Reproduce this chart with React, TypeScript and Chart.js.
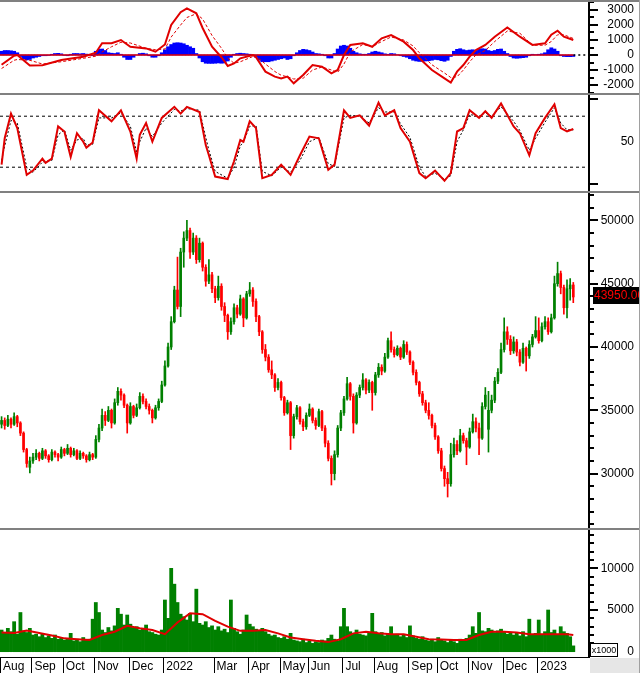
import React, { useEffect, useRef } from 'react';
import { Chart, registerables } from 'chart.js';

Chart.register(...registerables);

// ---------------- DATA ----------------
const monthLabels = ['Aug', 'Sep', 'Oct', 'Nov', 'Dec', '2022', 'Mar', 'Apr', 'May', 'Jun', 'Jul', 'Aug', 'Sep', 'Oct', 'Nov', 'Dec', '2023'];
const monthStartIdx = [0, 10, 20, 30, 41, 52, 68, 79, 89, 98, 109, 119, 130, 139, 149, 160, 171];

const opens = [
  33900, 34200, 33800, 34300, 33900, 34500, 34000, 33200, 31900, 30500,
  31000, 31300, 31600, 31200, 31800, 31400, 31100, 31700, 31500, 31300,
  31900, 31600, 32000, 31500, 31800, 31200, 31600, 31400, 31100, 31500,
  31300, 32700, 33600, 34600, 34200, 35000, 34000, 35600, 36500, 36200,
  35400, 34000, 35300, 34600, 35200, 36100, 35700, 35300, 35000, 34400,
  35200, 35700, 37000, 38500, 40000, 42000, 44500, 43200, 47500, 48600,
  49200, 47500, 48600, 46900, 48200, 46300, 45200, 45700, 44600, 43900,
  44800, 43200, 42500, 41200, 42000, 43100, 42600, 43800, 42300, 44200,
  44500, 43600, 42400, 41200, 39800, 39200, 38200, 37800, 36800, 37200,
  36000, 34800, 35600, 33000, 34500, 35200, 34100, 33700, 34600, 35100,
  34200, 33800, 34900, 33600, 32400, 31200, 30000, 31500, 33600, 34800,
  35900, 37100, 36100, 34000, 36200, 36800, 37400, 36600, 37200, 36400,
  37800, 38400, 38100, 39200, 40500, 39800, 39400, 39900, 39200, 40200,
  39600, 38800, 38000, 37200, 36300, 35600, 35000, 34600, 33800, 32900,
  31800, 30400, 29600, 29200, 31500, 32300, 31800, 33000, 32600, 32100,
  33300, 34100, 33600, 32800, 35300, 33500, 35000, 35800, 37300, 38000,
  39800, 41200, 40600, 39700, 40400, 39600, 38800, 39900, 39300, 40200,
  40800, 41300, 40500, 41600, 42000, 41200, 42300, 45000, 45800, 44700,
  43100, 44600, 44900,
];
const highs = [
  34500, 34400, 34600, 34400, 34800, 34600, 34100, 33300, 32000, 31300,
  31600, 31900, 31700, 32000, 31900, 31500, 31900, 31800, 31600, 32100,
  32000, 32300, 32100, 32000, 31900, 31800, 31700, 31500, 31700, 31600,
  33000, 33900, 35100, 34900, 35300, 35100, 35900, 36800, 36700, 36300,
  35500, 35600, 35400, 35500, 36400, 36300, 35900, 35500, 35100, 35400,
  35900, 37300, 38900, 40300, 42400, 44800, 47100, 47800, 49100, 50000,
  49400, 49000, 48800, 48600, 48300, 46500, 46900, 45900, 44800, 45600,
  45000, 43500, 42600, 42300, 43400, 43300, 44100, 43900, 44400, 45100,
  44700, 43800, 42500, 41300, 40200, 39400, 38900, 37900, 37500, 37300,
  36100, 35800, 35700, 34700, 35400, 35300, 34300, 34800, 35500, 35200,
  34400, 35100, 35000, 33800, 32600, 31400, 31800, 33800, 35000, 36100,
  37600, 37200, 36300, 36400, 37000, 37900, 37500, 37400, 37300, 38000,
  38700, 38600, 39500, 40700, 41200, 40000, 40100, 40000, 40500, 40400,
  39700, 38900, 38200, 37300, 36500, 35800, 35600, 34700, 34000, 33000,
  32000, 30600, 30100, 32400, 32800, 32600, 33500, 33200, 32800, 33600,
  34700, 34400, 34000, 35600, 36800, 36500, 36200, 37600, 38300, 40300,
  42300, 41600, 40900, 40800, 40600, 39800, 40300, 40000, 40500, 41000,
  42400, 42300, 41900, 42400, 42300, 42600, 45600, 46700, 46000, 44900,
  45300, 45400, 45100,
];
const lows = [
  33600, 33500, 33700, 33600, 33800, 33700, 33000, 31700, 30500, 30050,
  30800, 31100, 31000, 31100, 31200, 30900, 31000, 31300, 31000, 31200,
  31400, 31500, 31300, 31400, 31100, 31100, 31200, 30900, 31000, 31100,
  31200, 32500, 33400, 33800, 34100, 33600, 33900, 35400, 35800, 35200,
  33200, 33900, 34400, 34500, 35100, 35500, 35100, 34700, 34000, 34300,
  35000, 35600, 36900, 38400, 39800, 41900, 43000, 42400, 46300, 48400,
  47000, 47300, 46600, 46700, 46000, 44800, 45000, 44300, 43500, 43700,
  42900, 42000, 40600, 41000, 41800, 42300, 42500, 41600, 42200, 44000,
  43200, 42000, 40900, 39500, 38900, 38000, 37500, 36500, 36600, 35800,
  34600, 34700, 31900, 32800, 34300, 33900, 33400, 33500, 34500, 34000,
  33500, 33700, 33400, 32100, 31000, 29100, 29500, 31300, 33400, 34600,
  35800, 35800, 33200, 33900, 36000, 36600, 36300, 36400, 35000, 36200,
  37600, 37800, 38000, 39100, 39600, 39200, 39300, 39000, 39100, 39400,
  38600, 37800, 37000, 36100, 35400, 34800, 34300, 33600, 32700, 31600,
  30200, 29000, 28150, 29000, 31300, 31500, 31700, 32400, 30700, 32000,
  33200, 33300, 31500, 32700, 35100, 31700, 34800, 35600, 37100, 37900,
  39600, 40200, 39400, 39500, 39300, 38500, 38700, 38100, 39100, 40000,
  40700, 40300, 40400, 41400, 41000, 41100, 42200, 44800, 44200, 42600,
  42300, 43700, 43500,
];
const closes = [
  34200, 33800, 34300, 33900, 34500, 34000, 33200, 31900, 30800, 31000,
  31300, 31600, 31200, 31800, 31400, 31100, 31700, 31500, 31300, 31900,
  31600, 32000, 31500, 31800, 31200, 31600, 31400, 31100, 31500, 31300,
  32700, 33600, 34600, 34200, 35000, 34000, 35600, 36500, 36200, 35400,
  34000, 35300, 34600, 35200, 36100, 35700, 35300, 35000, 34400, 35200,
  35700, 37000, 38500, 40000, 42000, 44500, 43200, 47500, 48600, 49200,
  47500, 48600, 46900, 48200, 46300, 45200, 45700, 44600, 43900, 44800,
  43200, 42500, 41200, 42000, 43100, 42600, 43800, 42300, 44200, 44500,
  43600, 42400, 41200, 39800, 39200, 38200, 37800, 36800, 37200, 36000,
  34800, 35600, 33000, 34500, 35200, 34100, 33700, 34600, 35100, 34200,
  33800, 34900, 33600, 32400, 31200, 30000, 31500, 33600, 34800, 35900,
  37100, 36100, 34000, 36200, 36800, 37400, 36600, 37200, 36400, 37800,
  38400, 38100, 39200, 40500, 39800, 39400, 39900, 39200, 40200, 39600,
  38800, 38000, 37200, 36300, 35600, 35000, 34600, 33800, 32900, 31800,
  30400, 29600, 29200, 31500, 32300, 31800, 33000, 32600, 32100, 33300,
  34100, 33600, 32800, 35300, 36200, 35000, 35800, 37300, 38000, 39800,
  41200, 40600, 39700, 40400, 39600, 38800, 39900, 39300, 40200, 40800,
  41300, 40500, 41600, 42000, 41200, 42300, 45000, 45800, 44700, 43100,
  44600, 44900, 43950,
];

// volume, x1000
const volumes = [
  2600, 2200, 2800, 2400, 3600, 2100, 4700, 2500, 2300, 2800, 2000,
  2100, 1800, 2200, 1700, 1900, 1600, 2000, 1500, 1700, 1400,
  1600, 2200, 1300, 1500, 1200, 1700, 1400, 1500, 3900, 5900, 4700,
  2600, 2300, 2900, 2500, 3100, 5200, 4500, 3200, 4400,
  3300, 2900, 3000, 2600, 2800, 3200, 2400, 2300, 2100, 2000, 2600,
  6200, 4000, 10000, 8100, 5900, 4500, 4200, 3800, 4600, 3600, 7500,
  3400, 3200, 3600, 2900, 3100, 2600, 3000, 2500, 2700, 2300, 6200,
  2800, 2400, 2100, 2600, 4400, 3300, 3000, 2700, 2500, 2800,
  2400, 2100, 1900, 2000, 1700, 1600, 1800, 1500, 2200, 1400,
  1300, 1200, 1500, 1100, 1300, 1000, 1200, 1100, 1400, 1300, 1600, 2000, 1500, 1300, 3000,
  5200, 3000, 2400, 2200, 2600, 2100, 2000, 1900, 2200, 4600,
  2400, 2100, 2300, 1900, 2200, 3000, 2000, 2100, 1800, 2000, 1700, 3100,
  1900, 1600, 1500, 1800, 1400, 1300, 1500, 1200, 1700, 1400, 1300,
  1100, 1400, 1200, 1000, 1500, 1300, 1600, 2000, 3000, 2200, 4700,
  2500, 2400, 2800, 2600, 2300, 2500, 2700, 2400, 2100, 2300, 2000,
  2200, 1900, 2400, 1800, 3900, 2000, 2200, 3800, 2100, 2400, 5000,
  2300, 2600, 2100, 3000, 2400, 2200, 1800, 700,
];
const volMaIdx = [0, 4, 8, 12, 16, 20, 24, 28, 32, 36, 40, 44, 48, 52, 56, 60, 64, 68, 72, 76, 80, 84, 88, 92, 96, 100, 104, 108, 112, 116, 120, 124, 128, 132, 136, 140, 144, 148, 152, 156, 160, 164, 168, 172, 176, 180, 182];
const volMa = [
  2300, 2250, 2550, 2250, 1950, 1600, 1500, 1400, 2000, 2400,
  3100, 2800, 2600, 2100, 3500, 4600, 4500, 3700, 3000, 2500,
  2500, 2600, 2200, 1700, 1500, 1300, 1150, 1500, 2200, 2400,
  2200, 2100, 2100, 1800, 1500, 1450, 1400, 1400, 2000, 2400,
  2400, 2300, 2100, 2100, 2100, 2100, 2000,
];

// MACD
const macdIdx = [0, 4, 5, 9, 13, 19, 26, 30, 32, 35, 38, 41, 46, 49, 52, 54, 57, 59, 62, 64, 67, 70, 72, 74, 76, 80, 81, 84, 87, 89, 91, 93, 96, 99, 102, 105, 107, 109, 111, 115, 118, 121, 124, 128, 131, 133, 137, 141, 143, 145, 147, 149, 151, 154, 157, 161, 165, 169, 173, 175, 177, 179, 182];
const macdLine = [
  -650, -50, 0, -700, -680, -330, -110, 150, 780, 780,
  1000, 550, 440, 220, 700, 2000, 2850, 3110, 2780, 1800,
  550, -150, -730, -560, -220, 0, -150, -1110, -1440, -1560,
  -1440, -1890, -1330, -670, -780, -1220, -1000, 0, 670, 780,
  550, 1110, 1330, 890, 330, -220, -1000, -1560, -1840, -1110,
  -670, -110, 330, 670, 1220, 1840, 1220, 670, 780, 1350,
  1620, 1220, 1000,
];
const macdSignal = [
  -900, -350, -300, -350, -600, -450, -220, -80, 200, 550,
  850, 800, 450, 350, 400, 1200, 2000, 2500, 2750, 2400,
  1300, 450, -200, -550, -450, -100, -80, -600, -1100, -1350,
  -1450, -1600, -1550, -1000, -800, -1000, -1150, -600, 200, 700,
  550, 900, 1200, 1000, 600, 150, -650, -1200, -1500, -1450,
  -1000, -450, 0, 300, 900, 1600, 1450, 650, 650, 900,
  1350, 1350, 1100,
];
const macdHist = [
  250, 300, 300, 280, 250, 150, -100, -250, -330, -300,
  -200, -150, -100, -50, -50, -30, 50, 100, 110, 80,
  -30, -50, 50, 100, 100, 80, 100, 60, 20, -50,
  250, 380, 400, 300, 150, 120, 100, 150, 50, -150,
  -300, -300, -150, 0, 100, 120, 80, -50, -150, -150,
  -50, 150, 350, 550, 700, 800, 820, 800, 750, 650,
  550, 450, 100, -200, -450, -550, -560, -560, -550, -530,
  -550, -530, -400, -150, 50, 100, 120, 100, 80, 50,
  -50, -150, -350, -450, -450, -450, -400, -350, -300, -250,
  -200, -300, -250, -50, 150, 300, 380, 350, 300, 200,
  100, 80, 50, -50, -200, -200, 100, 400, 600, 650,
  600, 450, 250, 150, 80, 50, 50, 100, 200, 250,
  200, 150, 80, 50, 100, 80, 20, -50, -100, -150,
  -250, -350, -400, -430, -420, -400, -380, -350, -300, -320,
  -380, -420, -350, -100, 250, 380, 420, 350, 300, 330,
  350, 300, 380, 420, 400, 300, 250, 300, 380, 400,
  250, 100, -100, -200, -220, -200, -180, -150, -50, 50,
  30, 50, 80, 150, 350, 480, 400, 250, -50, -100,
  -110, -110, -100,
];

// Stochastic
const stochIdx = [0, 1, 3, 5, 8, 10, 13, 14, 16, 18, 20, 22, 24, 26, 27, 29, 31, 35, 38, 41, 43, 44, 46, 48, 51, 55, 57, 59, 63, 65, 66, 68, 72, 74, 76, 77, 79, 81, 83, 86, 89, 92, 95, 98, 101, 104, 106, 109, 111, 114, 117, 120, 122, 125, 127, 130, 133, 135, 138, 141, 143, 145, 147, 149, 152, 154, 156, 159, 163, 165, 168, 170, 173, 176, 178, 180, 182];
const stochK = [
  23, 54, 83, 66, 11, 16, 30, 25, 30, 68,
  62, 32, 60, 50, 43, 49, 87, 74, 87, 62,
  30, 58, 72, 50, 78, 91, 83, 91, 85, 46,
  34, 9, 6, 27, 52, 50, 74, 66, 7, 11,
  23, 11, 34, 56, 54, 17, 23, 87, 78, 81,
  69, 96, 81, 87, 66, 50, 13, 7, 16, 4,
  13, 62, 66, 87, 78, 86, 78, 95, 68, 60,
  34, 60, 78, 94, 66, 62, 65,
];
const stochD = [
  28, 45, 75, 72, 20, 14, 26, 27, 28, 58,
  64, 40, 52, 54, 46, 47, 78, 78, 84, 68,
  38, 50, 66, 56, 72, 88, 86, 89, 87, 55,
  40, 15, 7, 20, 45, 50, 68, 69, 15, 10,
  20, 14, 28, 50, 55, 24, 21, 78, 81, 80,
  72, 90, 85, 85, 71, 55, 20, 9, 13, 6,
  10, 50, 64, 82, 80, 84, 80, 91, 74, 63,
  40, 54, 73, 90, 72, 64, 64,
];
const stochLevels = [20, 80];

const macdLabels = [-2000, -1000, 0, 1000, 2000, 3000];
const stochLabels = [50];
const priceLabels = [30000, 35000, 40000, 45000, 50000];
const volLabels = [0, 5000, 10000];

// ---------------- STYLE / LAYOUT ----------------
const FONT = '"Liberation Sans", Arial, Helvetica, sans-serif';
const GREEN = '#008000';
const RED = '#ff0000';
const LINE_RED = '#e00000';
const BLUE = '#0000ff';
const AXIS_W = 45;
const PAD_R = 6;
const X_MIN = -0.5;
const X_MAX = 187;

const range = (a: number, b: number, s: number) => {
  const out: number[] = [];
  for (let v = a; v <= b + 1e-9; v += s) out.push(v);
  return out;
};

const tickMarksPlugin = (major: number[], minor: number[]) => ({
  id: 'tickMarks',
  afterDraw(chart: any) {
    const ys = chart.scales.y;
    const ctx = chart.ctx;
    const area = chart.chartArea;
    ctx.save();
    ctx.strokeStyle = '#000';
    ctx.lineWidth = 2;
    const mark = (v: number, len: number) => {
      const py = Math.round(ys.getPixelForValue(v));
      if (py < area.top || py > area.bottom) return;
      ctx.beginPath();
      ctx.moveTo(area.right, py);
      ctx.lineTo(area.right + len, py);
      ctx.stroke();
    };
    minor.forEach((v) => mark(v, 5));
    major.forEach((v) => mark(v, 9));
    ctx.restore();
  },
});

const priceTagPlugin = {
  id: 'priceTag',
  afterDraw(chart: any) {
    const ys = chart.scales.y;
    const ctx = chart.ctx;
    const last = closes[closes.length - 1];
    const py = Math.round(ys.getPixelForValue(last)) - 2;
    const x = chart.chartArea.right + 4;
    ctx.save();
    ctx.fillStyle = '#000';
    ctx.fillRect(x, py - 8, chart.width - x, 17);
    ctx.fillStyle = '#ff0000';
    ctx.font = `12px ${FONT}`;
    ctx.textBaseline = 'middle';
    ctx.textAlign = 'left';
    ctx.fillText(last.toFixed(2), x + 1, py + 1);
    ctx.restore();
  },
};

const volDecorPlugin = {
  id: 'volDecor',
  afterDraw(chart: any) {
    const ctx = chart.ctx;
    const area = chart.chartArea;
    const xs = chart.scales.x;
    ctx.save();
    ctx.fillStyle = '#e6e6e6';
    ctx.fillRect(area.right + 1, area.bottom + 1, chart.width - area.right - 1, chart.height - area.bottom - 1);
    ctx.strokeStyle = '#000';
    ctx.lineWidth = 1;
    monthStartIdx.forEach((i) => {
      const px = Math.round(xs.getPixelForValue(i - 0.5)) + 0.5;
      ctx.beginPath();
      ctx.moveTo(px, area.bottom);
      ctx.lineTo(px, chart.height);
      ctx.stroke();
    });
    const bx = area.right + 1.5;
    const by = area.bottom - 13.5;
    ctx.fillStyle = '#fff';
    ctx.fillRect(bx, by, 27, 13);
    ctx.strokeRect(bx, by, 27, 13);
    ctx.fillStyle = '#000';
    ctx.font = `9px ${FONT}`;
    ctx.textAlign = 'center';
    ctx.textBaseline = 'middle';
    ctx.fillText('x1000', bx + 13.5, by + 7);
    ctx.restore();
  },
};

function yScale(min: number, max: number, labels: number[]) {
  return {
    type: 'linear',
    position: 'right',
    min,
    max,
    beginAtZero: false,
    afterBuildTicks: (s: any) => {
      s.ticks = labels.map((v) => ({ value: v }));
    },
    afterFit: (s: any) => {
      s.width = AXIS_W;
      s.paddingTop = 0;
      s.paddingBottom = 0;
      s.paddingLeft = 0;
      s.paddingRight = 0;
    },
    grid: { display: false, drawTicks: false },
    border: { display: true, color: '#000', width: 2 },
    ticks: {
      autoSkip: false,
      crossAlign: 'far',
      color: '#000',
      padding: 0,
      font: { family: FONT, size: 12 },
      callback: (v: number) => String(v),
    },
  };
}

const hiddenX = { type: 'linear', min: X_MIN, max: X_MAX, display: false, offset: false };

function baseOptions(scales: any) {
  return {
    responsive: false,
    maintainAspectRatio: false,
    animation: false,
    events: [],
    layout: { padding: { left: 0, right: PAD_R, top: 0, bottom: 0 }, autoPadding: false },
    plugins: { legend: { display: false }, tooltip: { enabled: false } },
    scales,
  };
}

const lineDs = (data: any[], color: string, width: number, dash: number[] = [], order = 0) => ({
  type: 'line',
  data,
  borderColor: color,
  borderWidth: width,
  borderDash: dash,
  pointRadius: 0,
  tension: 0,
  fill: false,
  order,
});

export default function App() {
  const macdRef = useRef<HTMLCanvasElement>(null);
  const stochRef = useRef<HTMLCanvasElement>(null);
  const priceRef = useRef<HTMLCanvasElement>(null);
  const volRef = useRef<HTMLCanvasElement>(null);

  useEffect(() => {
    Chart.defaults.font.family = FONT;
    const charts: Chart[] = [];
    const candleColors = closes.map((c, i) => (c >= opens[i] ? GREEN : RED));

    // MACD
    charts.push(
      new Chart(macdRef.current as HTMLCanvasElement, {
        type: 'bar',
        data: {
          datasets: [
            lineDs(macdIdx.map((x, k) => ({ x, y: macdLine[k] })), LINE_RED, 2, [], 0),
            lineDs(macdIdx.map((x, k) => ({ x, y: macdSignal[k] })), LINE_RED, 1, [3, 2], 1),
            lineDs([{ x: X_MIN, y: 0 }, { x: closes.length - 1, y: 0 }], LINE_RED, 1.5, [], 2),
            lineDs([{ x: closes.length - 1, y: 0 }, { x: X_MAX - 0.5, y: 0 }], '#000', 1.5, [2, 3], 2),
            {
              type: 'bar',
              data: macdHist.map((y, x) => ({ x, y })),
              backgroundColor: BLUE,
              barPercentage: 1,
              categoryPercentage: 1,
              order: 3,
            },
          ],
        },
        options: baseOptions({ x: hiddenX, y: yScale(-2533, 3533, macdLabels) }) as any,
        plugins: [tickMarksPlugin(range(-2000, 3000, 1000), range(-2500, 3500, 500))],
      } as any)
    );

    // Stochastic
    charts.push(
      new Chart(stochRef.current as HTMLCanvasElement, {
        type: 'line',
        data: {
          datasets: [
            lineDs(stochIdx.map((x, k) => ({ x, y: stochK[k] })), LINE_RED, 2, [], 0),
            lineDs(stochIdx.map((x, k) => ({ x, y: stochD[k] })), '#000', 1, [2, 2], 1),
            ...stochLevels.map((lv) => lineDs([{ x: X_MIN, y: lv }, { x: X_MAX, y: lv }], '#000', 1, [3, 3], 2)),
          ],
        },
        options: baseOptions({ x: hiddenX, y: yScale(-8.0, 104.94, stochLabels) }) as any,
        plugins: [tickMarksPlugin([0, 100], [])],
      } as any)
    );

    // Price
    charts.push(
      new Chart(priceRef.current as HTMLCanvasElement, {
        type: 'bar',
        data: {
          datasets: [
            {
              type: 'bar',
              data: closes.map((c, i) => ({ x: i, y: [opens[i], c] })),
              backgroundColor: candleColors,
              barThickness: 2,
              grouped: false,
              order: 0,
            },
            {
              type: 'bar',
              data: closes.map((_, i) => ({ x: i, y: [lows[i], highs[i]] })),
              backgroundColor: candleColors,
              barThickness: 1,
              grouped: false,
              order: 1,
            },
          ],
        },
        options: baseOptions({ x: hiddenX, y: yScale(25703, 52164, priceLabels) }) as any,
        plugins: [tickMarksPlugin(range(25000, 55000, 5000), range(26000, 52000, 1000)), priceTagPlugin],
      } as any)
    );

    // Volume
    charts.push(
      new Chart(volRef.current as HTMLCanvasElement, {
        type: 'bar',
        data: {
          datasets: [
            lineDs(volMaIdx.map((x, k) => ({ x, y: volMa[k] })), LINE_RED, 2, [], 0),
            {
              type: 'bar',
              data: volumes.map((y, x) => ({ x, y })),
              backgroundColor: GREEN,
              barPercentage: 1,
              categoryPercentage: 1,
              order: 1,
            },
          ],
        },
        options: baseOptions({
          x: {
            type: 'linear',
            position: 'bottom',
            min: X_MIN,
            max: X_MAX,
            offset: false,
            afterBuildTicks: (s: any) => {
              s.ticks = monthStartIdx.map((i) => ({ value: i - 0.5 }));
            },
            afterFit: (s: any) => {
              s.height = 16;
              s.paddingLeft = 0;
              s.paddingRight = 0;
            },
            grid: { display: false, drawTicks: false },
            border: { display: true, color: '#000', width: 1 },
            ticks: {
              autoSkip: false,
              maxRotation: 0,
              minRotation: 0,
              align: 'start',
              labelOffset: 3,
              padding: 2,
              color: '#000',
              font: { family: FONT, size: 12 },
              callback: (_v: number, i: number) => monthLabels[i],
            },
          },
          y: yScale(-635, 14592, volLabels),
        }) as any,
        plugins: [tickMarksPlugin(range(0, 10000, 5000), range(1000, 14000, 1000)), volDecorPlugin],
      } as any)
    );

    return () => charts.forEach((c) => c.destroy());
  }, []);

  const sep = (top: number) => (
    <div style={{ position: 'absolute', left: 0, top, width: 640, height: 2, background: '#808080' }} />
  );

  return (
    <div style={{ position: 'fixed', left: 0, top: 0, width: 640, height: 673, background: '#fff', overflow: 'hidden' }}>
      <canvas ref={macdRef} width={640} height={91} style={{ position: 'absolute', left: 0, top: 2 }} />
      <canvas ref={stochRef} width={640} height={96} style={{ position: 'absolute', left: 0, top: 95 }} />
      <canvas ref={priceRef} width={640} height={335} style={{ position: 'absolute', left: 0, top: 193 }} />
      <canvas ref={volRef} width={640} height={143} style={{ position: 'absolute', left: 0, top: 530 }} />
      {sep(0)}
      {sep(93)}
      {sep(191)}
      {sep(528)}
      <div style={{ position: 'absolute', left: 639, top: 0, width: 1, height: 673, background: '#a0a0a0' }} />
    </div>
  );
}
